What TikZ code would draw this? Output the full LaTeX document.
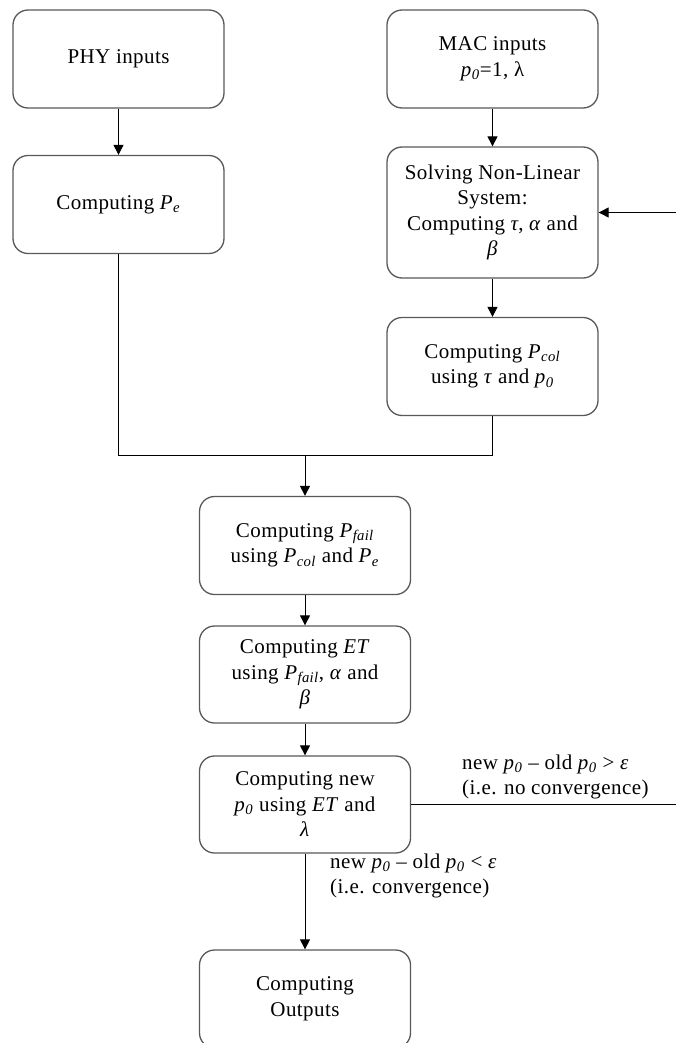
\documentclass[tikz,border=0pt]{standalone}
\usepackage{fontspec}
\setmainfont[LetterSpace=2]{Liberation Serif}
\usetikzlibrary{arrows.meta}
\newcommand{\pz}{\textit{p}\textsubscript{\textit{0}}}
\newcommand{\Psub}[1]{\textit{P}\textsubscript{\textit{#1}}}
\begin{document}
\begin{tikzpicture}[x=1pt,y=-1pt,
  box/.style={draw=black!65, line width=1.3pt, rounded corners=15pt, fill=white,
    minimum width=211pt, minimum height=98pt, align=center, inner sep=2pt,
    font=\fontsize{21}{25.5}\selectfont},
  conn/.style={draw=black, line width=1pt},
  arr/.style={conn, -{Triangle[length=10pt,width=10pt]}},
  lab/.style={align=left, anchor=west, inner sep=0pt, font=\fontsize{21}{25.5}\selectfont}]
\useasboundingbox (0,0) rectangle (676,1043);
\node[box] (phy) at (118.5,59) {PHY inputs};
\node[box] (pe) at (118.5,204.5) {Computing \Psub{e}};
\node[box] (mac) at (492.5,59) {MAC inputs\\\pz=1, λ};
\node[box, minimum height=131pt] (solve) at (492.5,212.5) {Solving Non-Linear\\System:\\Computing \textit{τ}, \textit{α} and\\\textit{β}};
\node[box] (pcol) at (492.5,366.5) {Computing \Psub{col}\\using \textit{τ} and \pz};
\node[box] (pfail) at (305,545.5) {Computing \Psub{fail}\\using \Psub{col} and \Psub{e}};
\node[box, minimum height=97pt] (et) at (305,674.5) {Computing \textit{ET}\\using \Psub{fail}, \textit{α} and\\\textit{β}};
\node[box, minimum height=97pt] (newp) at (305,804.5) {Computing new\\\pz\ using \textit{ET} and\\\textit{λ}};
\node[box, minimum height=98pt] (out) at (305,999) {Computing\\Outputs};
\coordinate (merge) at (305,455);
\coordinate (fb) at (676,212.5);
\coordinate (nc) at (676,804.5);
\draw[arr] (phy) -- (pe);
\draw[arr] (mac) -- (solve);
\draw[arr] (solve) -- (pcol);
\draw[arr] (fb) -- (solve.east);
\draw[conn] (pe.south) |- (merge);
\draw[conn] (pcol.south) |- (merge);
\draw[arr] (merge) -- (pfail.north);
\draw[arr] (pfail) -- (et);
\draw[arr] (et) -- (newp);
\draw[conn] (newp.east) -- (nc);
\draw[arr] (newp) -- (out);
\node[lab] (l1) at (462,777) {new \pz\ – old \pz\ > \textit{ε}\\(i.e. no convergence)};
\node[lab] (l2) at (330,876) {new \pz\ – old \pz\ < \textit{ε}\\(i.e. convergence)};
\end{tikzpicture}
\end{document}
